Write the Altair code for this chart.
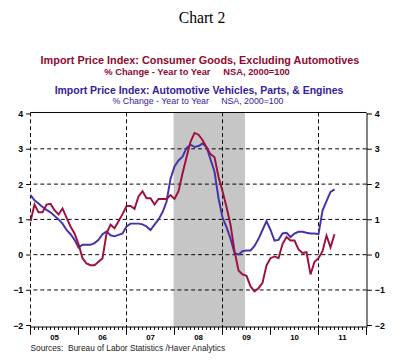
import altair as alt
import pandas as pd

# ---------------- data ----------------
start_year = 2005  # monthly data from Jan 2005
consumer_goods = [0.95, 1.42, 1.2, 1.2, 1.42, 1.44, 1.26, 1.14, 1.31, 1.05,
                  0.8, 0.6, 0.3, -0.1, -0.25, -0.3, -0.3, -0.2, -0.1, 0.6,
                  0.85, 0.75, 0.95, 1.15, 1.38, 1.38, 1.3, 1.65, 1.8, 1.6,
                  1.6, 1.42, 1.58, 1.58, 1.58, 1.69, 1.58, 1.8, 2.3, 2.76,
                  3.2, 3.45, 3.4, 3.25, 3.04, 2.85, 2.76, 2.2, 1.8, 1.35,
                  0.85, 0.1, -0.45, -0.56, -0.6, -0.9, -1.04, -0.95, -0.8, -0.3,
                  -0.1, -0.05, -0.1, 0.3, 0.5, 0.4, 0.4, 0.15, 0.05, 0.07,
                  -0.56, -0.2, -0.1, 0.1, 0.54, 0.21, 0.58]
auto_vehicles = [1.69, 1.54, 1.45, 1.35, 1.27, 1.2, 1.1, 1.0, 0.88, 0.7,
                 0.58, 0.42, 0.2, 0.28, 0.28, 0.28, 0.33, 0.42, 0.58, 0.66,
                 0.55, 0.52, 0.56, 0.6, 0.8, 0.88, 0.88, 0.88, 0.86, 0.8,
                 0.7, 0.85, 1.0, 1.2, 1.5, 2.15, 2.5, 2.67, 2.78, 3.02,
                 3.12, 3.05, 3.08, 3.15, 3.05, 2.7, 2.35, 1.6, 1.05, 0.78,
                 0.45, 0.05, 0.0, 0.1, 0.12, 0.12, 0.25, 0.45, 0.7, 0.95,
                 0.7, 0.4, 0.42, 0.6, 0.62, 0.5, 0.6, 0.65, 0.65, 0.62,
                 0.6, 0.6, 0.58, 1.25, 1.52, 1.78, 1.85]

recession_start = [2007.98]
recession_end = [2009.47]
hgrid_values = [-1, 0, 1, 2, 3]
vgrid_years = [2005, 2007, 2009, 2011]
year_ticks = [2005, 2006, 2007, 2008, 2009, 2010, 2011, 2012]
year_labels = ["05", "06", "07", "08", "09", "10", "11"]
y_ticks = [-2, -1, 0, 1, 2, 3, 4]

NB = "\u00a0"
chart_title = "Chart 2"
title_red = "Import Price Index: Consumer Goods, Excluding Automotives"
sub_red = "% Change - Year to Year" + NB * 5 + "NSA, 2000=100"
title_blue = "Import Price Index: Automotive Vehicles, Parts, & Engines"
sub_blue = "% Change - Year to Year" + NB * 5 + "NSA, 2000=100"
source_text = "Sources:  Bureau of Labor Statistics /Haver Analytics".replace("  ", NB + NB)

RED = "#9E1040"
BLUE = "#4433AA"
RED_TXT = "#8E0A30"
BLUE_TXT = "#33229A"
FONT = "Liberation Sans"

W, H = 343, 219

# ---------------- tables ----------------
red_df = pd.DataFrame({"t": [start_year + i / 12 for i in range(len(consumer_goods))],
                       "v": consumer_goods})
blue_df = pd.DataFrame({"t": [start_year + i / 12 for i in range(len(auto_vehicles))],
                        "v": auto_vehicles})
rec_df = pd.DataFrame({"s": recession_start, "e": recession_end})
hgrid_df = pd.DataFrame({"v": hgrid_values})
vgrid_df = pd.DataFrame({"t": vgrid_years})
major_df = pd.DataFrame({"t": year_ticks})
minor_df = pd.DataFrame({"t": [y + m / 12 for y in year_ticks[:-1] for m in range(1, 12)]})
label_df = pd.DataFrame({"t": [y + 0.5 for y in year_ticks[:-1]], "lab": year_labels})

xs = alt.Scale(domain=[2005, 2012], nice=False, zero=False)
ys = alt.Scale(domain=[-2.05, 4.03], nice=False, zero=False)

axis_common = dict(values=y_ticks, format="d", title=None, grid=False,
                   labelFont=FONT, labelFontSize=9, labelFontWeight="bold",
                   labelColor="black", tickColor="black", tickSize=5,
                   labelPadding=3, domainColor="black")

rec = alt.Chart(rec_df).mark_rect(color="#C6C6C6").encode(
    x=alt.X("s:Q", scale=xs, axis=None), x2="e:Q")

hgrid = alt.Chart(hgrid_df).mark_rule(color="black", strokeDash=[4, 3], strokeWidth=1).encode(
    y=alt.Y("v:Q", scale=ys, axis=alt.Axis(orient="right", domain=True, **axis_common)))

vgrid = alt.Chart(vgrid_df).mark_rule(color="black", strokeDash=[4, 3], strokeWidth=1).encode(
    x=alt.X("t:Q", scale=xs, axis=None))

blue_line = alt.Chart(blue_df).mark_line(color=BLUE, strokeWidth=2).encode(
    x=alt.X("t:Q", scale=xs, axis=None),
    y=alt.Y("v:Q", scale=ys, axis=alt.Axis(orient="left", domain=False, **axis_common)))

red_line = alt.Chart(red_df).mark_line(color=RED, strokeWidth=2).encode(
    x=alt.X("t:Q", scale=xs, axis=None),
    y=alt.Y("v:Q", scale=ys, axis=None))

top_border = alt.Chart(major_df.head(1)).mark_rule(color="black", strokeWidth=1).encode(
    y=alt.value(0))
bottom_border = alt.Chart(major_df.head(1)).mark_rule(color="black", strokeWidth=1).encode(
    y=alt.value(H))

major_ticks = alt.Chart(major_df).mark_rule(color="black", strokeWidth=1).encode(
    x=alt.X("t:Q", scale=xs, axis=None), y=alt.value(H), y2=alt.value(H + 8))
minor_ticks = alt.Chart(minor_df).mark_rule(color="black", strokeWidth=1).encode(
    x=alt.X("t:Q", scale=xs, axis=None), y=alt.value(H), y2=alt.value(H + 3))
year_text = alt.Chart(label_df).mark_text(font=FONT, fontSize=8, fontWeight="bold",
                                          color="black", baseline="middle").encode(
    x=alt.X("t:Q", scale=xs, axis=None), y=alt.value(H + 11), text="lab:N")


def txt(s, x, y, size, color, weight="normal", font=FONT, align="center"):
    return alt.Chart(pd.DataFrame({"s": [s]})).mark_text(
        font=font, fontSize=size, fontWeight=weight, color=color,
        align=align, baseline="middle").encode(
        x=alt.value(x), y=alt.value(y), text="s:N")


texts = [
    txt(chart_title, 175, -96, 16, "black", font="Liberation Serif"),
    txt(title_red, 173, -52, 11.1, RED_TXT, "bold"),
    txt(sub_red, 170, -41, 9.5, RED_TXT, "bold"),
    txt(title_blue, 172, -22, 10.7, BLUE_TXT, "bold"),
    txt(sub_blue, 171, -11.5, 9, BLUE_TXT),
    txt(source_text, 0, H + 21, 8.5, "#222222", align="left"),
]

chart = alt.layer(
    rec, hgrid, vgrid, blue_line, red_line, top_border, bottom_border,
    major_ticks, minor_ticks, year_text, *texts
).resolve_axis(y="independent").properties(
    width=W, height=H,
    autosize=alt.AutoSizeParams(type="none"),
    padding={"left": 23, "top": 103, "right": 25, "bottom": 30},
    background="white",
).configure_view(stroke=None)

chart.save("out.html", embed_options={"renderer": "svg", "actions": False})
